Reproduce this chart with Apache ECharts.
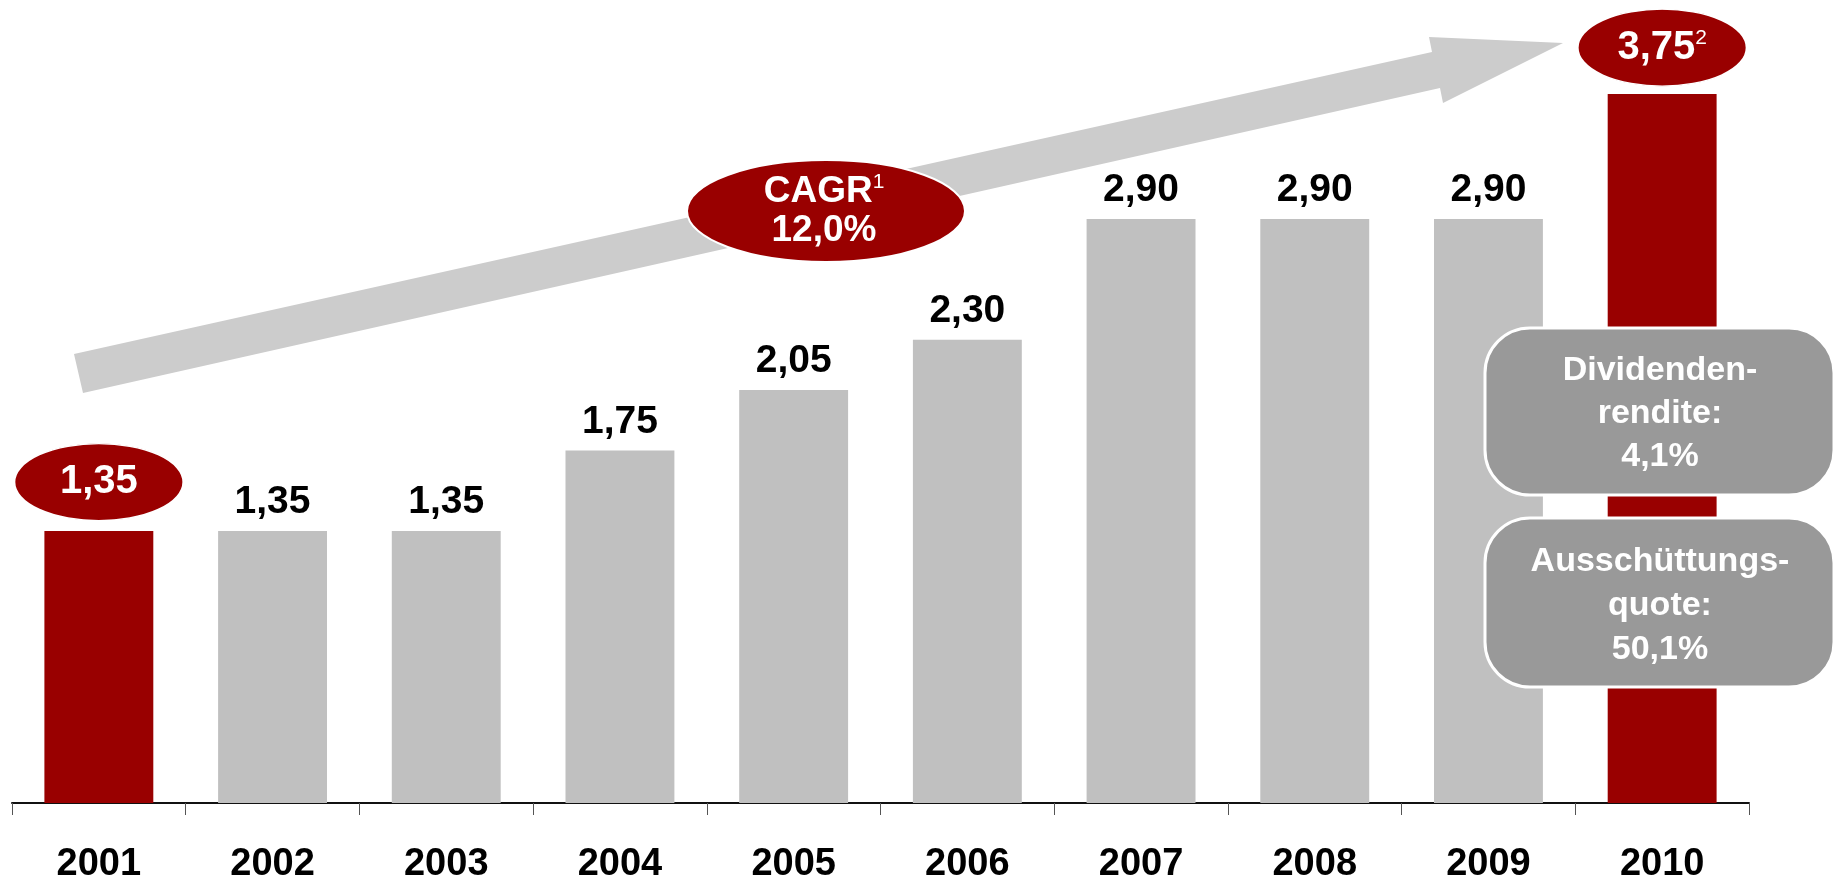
<!DOCTYPE html>
<html><head><meta charset="utf-8">
<script src="https://cdn.jsdelivr.net/npm/echarts@6/dist/echarts.min.js"></script>
<style>html,body{margin:0;padding:0;background:#fff}#c{width:1835px;height:876px}</style>
</head><body><div id="c"></div>
<script>
// ---- data ----
const years = ['2001','2002','2003','2004','2005','2006','2007','2008','2009','2010'];
const dividends = [1.35, 1.35, 1.35, 1.75, 2.05, 2.30, 2.90, 2.90, 2.90, 3.75];
const highlightYears = ['2001', '2010'];
const footnoteMarks = ['', '', '', '', '', '', '', '', '', '2'];
const cagrLabel = 'CAGR';
const cagrFootnote = '1';
const cagrValue = '12,0%';
const yieldLines = ['Dividenden-', 'rendite:', '4,1%'];
const payoutLines = ['Ausschüttungs-', 'quote:', '50,1%'];

// ---- styles ----
const RED = '#990000', GREY = '#c0c0c0', ARROW = '#cccccc', BOX = '#999999';
const FONT = '"Liberation Sans", Arial, Helvetica, sans-serif';
const fmt = v => v.toFixed(2).replace('.', ',');
const ellipseOffset = { '2001': -49, '2010': 0 };

const chart = echarts.init(document.getElementById('c'), null, { renderer: 'canvas' });

const barData = years.map((y, i) => {
  const hl = highlightYears.includes(y);
  return { value: dividends[i], itemStyle: { color: hl ? RED : GREY }, label: { show: !hl } };
});
const ellipseData = years.map((y, i) => highlightYears.includes(y)
  ? { value: [y, dividends[i]], symbolOffset: [0, ellipseOffset[y]], fn: footnoteMarks[i] }
  : null).filter(Boolean);

const option = {
  animation: false,
  backgroundColor: '#fff',
  grid: { left: 12, right: 86, top: 94, bottom: 73, containLabel: false, outerBoundsMode: 'none' },
  xAxis: {
    type: 'category', data: years,
    axisLine: { lineStyle: { color: '#111', width: 2 } },
    axisTick: { show: true, length: 12, lineStyle: { color: '#555', width: 1 } },
    axisLabel: { margin: 43, color: '#000', fontSize: 38, fontWeight: 'bold', fontFamily: FONT }
  },
  yAxis: { type: 'value', min: 0, max: 3.52, show: false, splitLine: { show: false } },
  series: [
    {
      type: 'bar', barWidth: '62.7%', clip: true, z: 3,
      data: barData,
      label: { position: 'top', distance: 9, color: '#000', fontSize: 39, fontWeight: 'bold',
               fontFamily: FONT, formatter: p => fmt(p.value) }
    },
    {
      type: 'scatter', clip: false, z: 5, symbol: 'circle', symbolSize: [170, 77],
      itemStyle: { color: RED, borderColor: '#fff', borderWidth: 2, opacity: 1 },
      data: ellipseData,
      label: {
        show: true, position: 'inside',
        formatter: p => '{v|' + fmt(p.value[1]) + '}' + (p.data.fn ? '{s|' + p.data.fn + '}' : ''),
        rich: {
          v: { fontSize: 40, fontWeight: 'bold', color: '#fff', fontFamily: FONT, lineHeight: 40 },
          s: { fontSize: 21, color: '#fff', fontFamily: FONT, verticalAlign: 'top', lineHeight: 40 }
        }
      }
    }
  ],
  graphic: [
    { type: 'polygon', z: 1, silent: true,
      shape: { points: [[74, 354], [1432, 52], [1429, 37], [1563, 43], [1443, 103], [1440, 88], [83, 393]] },
      style: { fill: ARROW } },
    { type: 'ellipse', z: 6, silent: true,
      shape: { cx: 826, cy: 211, rx: 139, ry: 51 },
      style: { fill: RED, stroke: '#fff', lineWidth: 2 } },
    { type: 'text', z: 7, silent: true, x: 824, y: 211,
      style: { text: '{a|' + cagrLabel + '}{s|' + cagrFootnote + '}\n{a|' + cagrValue + '}',
        align: 'center', verticalAlign: 'middle',
        rich: { a: { fontSize: 37, fontWeight: 'bold', fill: '#fff', fontFamily: FONT, lineHeight: 39 },
                s: { fontSize: 21, fill: '#fff', fontFamily: FONT, verticalAlign: 'top', lineHeight: 39 } } } },
    { type: 'rect', z: 10, silent: true,
      shape: { x: 1485, y: 328, width: 349, height: 167, r: 45 },
      style: { fill: BOX, stroke: '#fff', lineWidth: 3 } },
    { type: 'text', z: 11, silent: true, x: 1660, y: 414,
      style: { text: yieldLines.join('\n'), align: 'center', verticalAlign: 'middle',
        fill: '#fff', font: 'bold 34px ' + FONT, lineHeight: 43 } },
    { type: 'rect', z: 10, silent: true,
      shape: { x: 1485, y: 518, width: 349, height: 169, r: 45 },
      style: { fill: BOX, stroke: '#fff', lineWidth: 3 } },
    { type: 'text', z: 11, silent: true, x: 1660, y: 606,
      style: { text: payoutLines.join('\n'), align: 'center', verticalAlign: 'middle',
        fill: '#fff', font: 'bold 34px ' + FONT, lineHeight: 44 } }
  ]
};
chart.setOption(option);
</script></body></html>
